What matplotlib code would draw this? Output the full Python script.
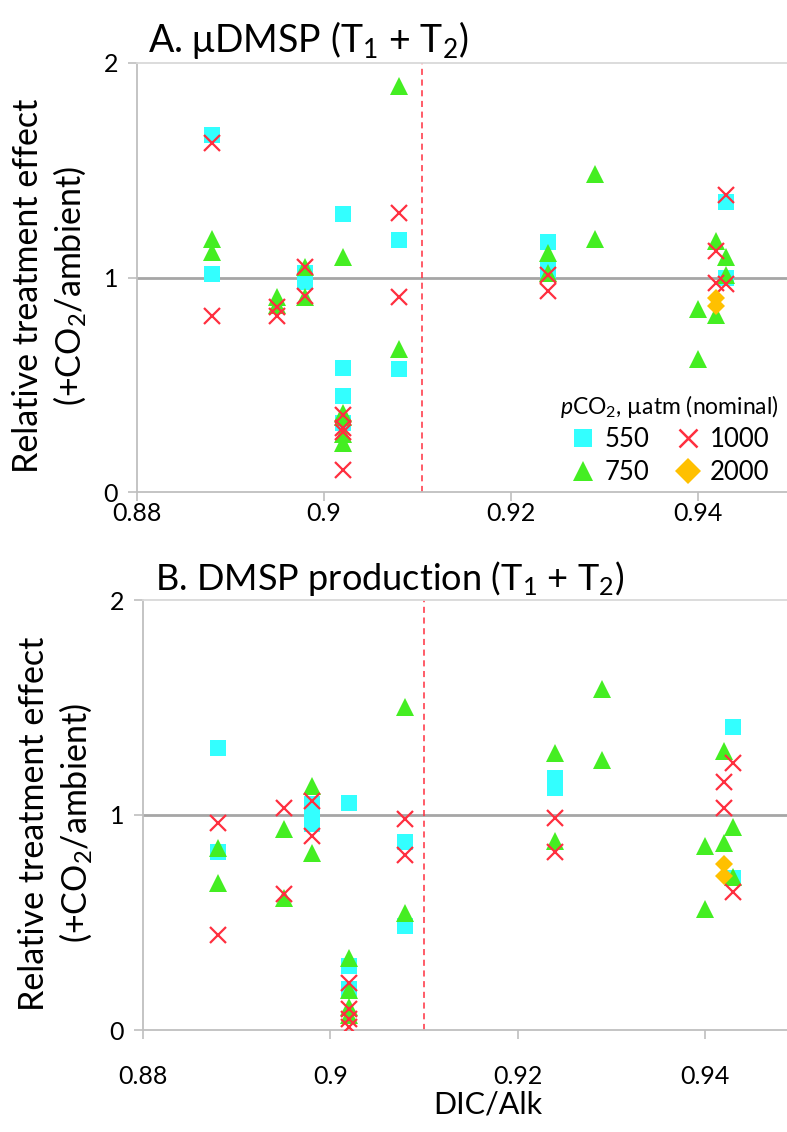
## DMSP treatment effect vs DIC/Alk, two panels

import matplotlib.pyplot as plt
from matplotlib.lines import Line2D

plt.rcParams['font.family'] = ['Lato', 'DejaVu Sans']
plt.rcParams['mathtext.fontset'] = 'custom'
plt.rcParams['mathtext.rm'] = 'Lato'
plt.rcParams['mathtext.it'] = 'Lato:italic'

# ---- data ----
# panel A: uDMSP
a550_x = [0.888, 0.888, 0.898, 0.898, 0.902, 0.902, 0.902, 0.902, 0.908, 0.908, 0.924, 0.924, 0.943, 0.943]
a550_y = [1.664, 1.015, 1.02, 0.98, 1.296, 0.58, 0.449, 0.32, 1.175, 0.572, 1.164, 1.035, 1.354, 0.996]
a750_x = [0.888, 0.888, 0.895, 0.895, 0.898, 0.898, 0.902, 0.902, 0.902, 0.902, 0.902, 0.908, 0.908,
          0.924, 0.924, 0.929, 0.929, 0.940, 0.940, 0.942, 0.942, 0.943, 0.943]
a750_y = [1.18, 1.12, 0.91, 0.87, 1.05, 0.91, 1.097, 0.367, 0.35, 0.27, 0.227, 1.893, 0.665,
          1.113, 1.02, 1.483, 1.178, 0.852, 0.619, 1.172, 0.825, 1.097, 1.01]
a1000_x = [0.888, 0.888, 0.895, 0.895, 0.898, 0.898, 0.902, 0.902, 0.902, 0.902, 0.908, 0.908,
           0.924, 0.924, 0.942, 0.942, 0.943, 0.943]
a1000_y = [1.626, 0.822, 0.864, 0.822, 1.048, 0.915, 0.359, 0.30, 0.28, 0.103, 1.302, 0.911,
           1.01, 0.938, 1.124, 0.973, 1.385, 0.968]
a2000_x = [0.942, 0.942]
a2000_y = [0.903, 0.867]

# panel B: DMSP production
b550_x = [0.888, 0.888, 0.898, 0.898, 0.898, 0.902, 0.902, 0.902, 0.908, 0.908, 0.924, 0.924, 0.943, 0.943]
b550_y = [1.313, 0.829, 1.05, 1.0, 0.96, 1.054, 0.30, 0.19, 0.873, 0.484, 1.171, 1.124, 1.411, 0.706]
b750_x = [0.888, 0.888, 0.895, 0.895, 0.898, 0.898, 0.902, 0.902, 0.902, 0.902, 0.908, 0.908,
          0.924, 0.924, 0.929, 0.929, 0.940, 0.940, 0.942, 0.942, 0.943, 0.943]
b750_y = [0.845, 0.682, 0.933, 0.612, 1.135, 0.822, 0.333, 0.186, 0.108, 0.07, 1.504, 0.546,
          1.287, 0.881, 1.586, 1.256, 0.856, 0.561, 1.299, 0.868, 0.946, 0.71]
b1000_x = [0.888, 0.888, 0.895, 0.895, 0.898, 0.898, 0.902, 0.902, 0.902, 0.902, 0.908, 0.908,
           0.924, 0.924, 0.942, 0.942, 0.943, 0.943]
b1000_y = [0.961, 0.442, 1.031, 0.633, 1.066, 0.904, 0.22, 0.1, 0.05, 0.013, 0.98, 0.814,
           0.988, 0.829, 1.152, 1.031, 1.24, 0.643]
b2000_x = [0.942, 0.942]
b2000_y = [0.772, 0.716]

threshold_a = 0.9105
threshold_b = 0.910

xticks = [0.88, 0.90, 0.92, 0.94]
xtick_labels = ['0.88', '0.9', '0.92', '0.94']
yticks = [0, 1, 2]

c550 = '#33FFFF'
c750 = '#44EE22'
c1000 = '#FF2F3F'
c2000 = '#FFC000'

W, H = 787, 1132
fig = plt.figure(figsize=(W / 100, H / 100), dpi=100)


def px_axes(left, top, right, bottom):
    return fig.add_axes([left / W, 1 - bottom / H, (right - left) / W, (bottom - top) / H])


def draw_panel(ax, xs, ys, thr, xpad):
    (x550, x750, x1000, x2000) = xs
    (y550, y750, y1000, y2000) = ys
    ax.set_xlim(0.88, 0.95)
    ax.set_ylim(0, 2)
    ax.axhline(1, color='#A6A6A6', lw=2, zorder=1)
    ax.axvline(thr, color='#FF2F3F', lw=1.1, ls=(0, (4, 3)), zorder=1)
    ax.plot(x550, y550, ls='', marker='s', ms=11, color=c550, mew=0, zorder=3)
    ax.plot(x750, y750, ls='', marker='^', ms=13, color=c750, mew=0, zorder=4)
    ax.plot(x1000, y1000, ls='', marker='x', ms=11, color=c1000, mew=1.6, zorder=5)
    ax.plot(x2000, y2000, ls='', marker='D', ms=9, color=c2000, mew=0, zorder=6)
    ax.set_xticks(xticks)
    ax.set_xticklabels(xtick_labels)
    ax.set_yticks(yticks)
    ax.spines['right'].set_visible(False)
    ax.spines['top'].set_color('#D9D9D9')
    ax.spines['left'].set_color('#BFBFBF')
    ax.spines['bottom'].set_color('#BFBFBF')
    for s in ['top', 'left', 'bottom']:
        ax.spines[s].set_linewidth(1.3)
    ax.tick_params(axis='both', direction='out', length=6.5, width=1.2, color='#BFBFBF',
                   labelsize=18, pad=7)
    ax.tick_params(axis='x', pad=xpad)
    ax.set_ylabel('Relative treatment effect\n(+CO$_2$/ambient)', fontsize=24.5, linespacing=1.25)
    ax.yaxis.set_label_coords(-0.075, 0.48)


axA = px_axes(137, 63, 791, 492)
draw_panel(axA, (a550_x, a750_x, a1000_x, a2000_x), (a550_y, a750_y, a1000_y, a2000_y), threshold_a, 1)

axB = px_axes(143, 600, 799, 1030)
draw_panel(axB, (b550_x, b750_x, b1000_x, b2000_x), (b550_y, b750_y, b1000_y, b2000_y), threshold_b, 19)
axB.set_xlabel('DIC/Alk', fontsize=22)
axB.xaxis.set_label_coords(0.526, -0.14)

fig.text(148 / W, 1 - 40 / H, 'A. μDMSP (T$_1$ + T$_2$)', fontsize=27, va='center', ha='left')
fig.text(155 / W, 1 - 578 / H, 'B. DMSP production (T$_1$ + T$_2$)', fontsize=26, va='center', ha='left')

handles = [
    Line2D([], [], ls='', marker='s', ms=13, color=c550, mew=0),
    Line2D([], [], ls='', marker='^', ms=15, color=c750, mew=0),
    Line2D([], [], ls='', marker='x', ms=13, color=c1000, mew=1.8),
    Line2D([], [], ls='', marker='D', ms=13, color=c2000, mew=0),
]
leg = axA.legend(handles, ['550', '750', '1000', '2000'], ncol=2,
                 title='$\\mathit{p}$CO$_2$, µatm (nominal)', title_fontsize=16.5, fontsize=18.5,
                 frameon=False, loc='lower right', bbox_to_anchor=(1.005, -0.02),
                 handlelength=1.0, handletextpad=0.35, columnspacing=1.0, labelspacing=0.3,
                 borderaxespad=0.2)

fig.savefig('out.png', dpi=100)
